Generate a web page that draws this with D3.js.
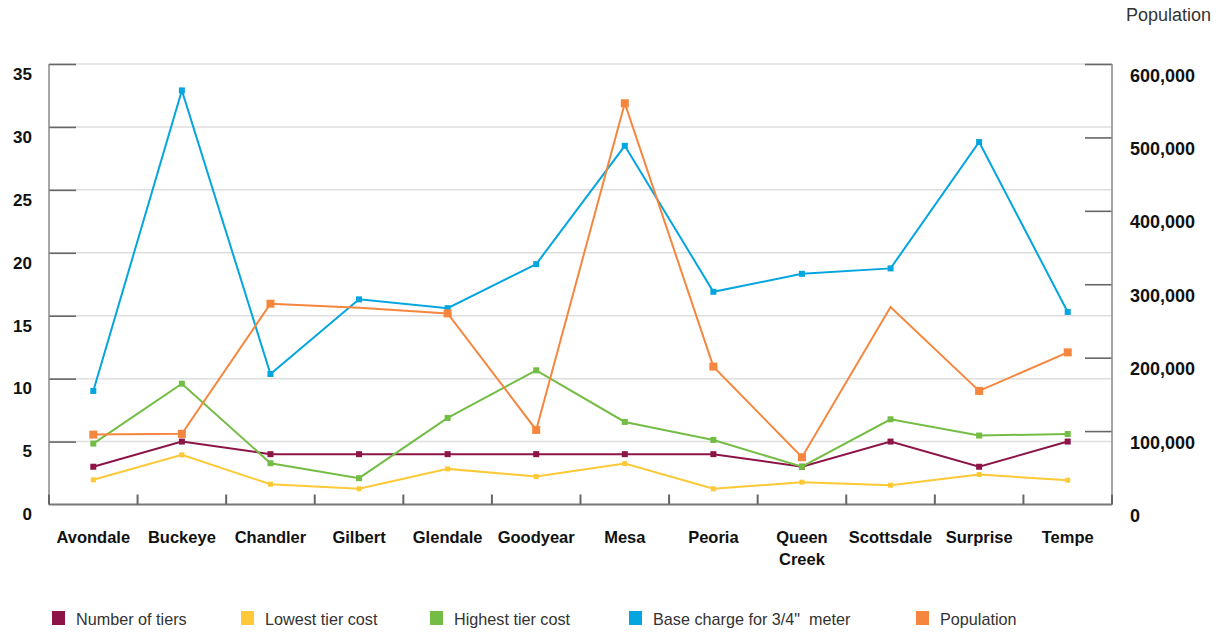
<!DOCTYPE html>
<html>
<head>
<meta charset="utf-8">
<script src="https://cdn.jsdelivr.net/npm/d3@7"></script>
<style>
  html, body { margin: 0; padding: 0; background: #ffffff; }
  svg { display: block; font-family: "Liberation Sans", Arial, Helvetica, sans-serif; }
</style>
</head>
<body>
<svg id="chart" width="1221" height="633"></svg>
<script>
// Water rate structure by city, with city population on the right axis
const cities = ["Avondale", "Buckeye", "Chandler", "Gilbert", "Glendale", "Goodyear",
                "Mesa", "Peoria", "Queen Creek", "Scottsdale", "Surprise", "Tempe"];
const numberOfTiers   = [3, 5, 4, 4, 4, 4, 4, 4, 3, 5, 3, 5];
const lowestTierCost  = [1.96, 3.94, 1.61, 1.25, 2.83, 2.22, 3.25, 1.25, 1.77, 1.53, 2.38, 1.93];
const highestTierCost = [4.84, 9.6, 3.28, 2.09, 6.88, 10.66, 6.56, 5.13, 3.0, 6.77, 5.48, 5.6];
const baseCharge      = [9.02, 32.9, 10.37, 16.3, 15.6, 19.1, 28.5, 16.9, 18.33, 18.76, 28.8, 15.3];
const population      = [95200, 96200, 273500, 268000, 260300, 101600, 546500, 187800, 64400, 269000, 154700, 207200];
const populationNoMarker = ["Gilbert", "Scottsdale"];

const leftTicks  = [0, 5, 10, 15, 20, 25, 30, 35];
const rightTicks = [0, 100000, 200000, 300000, 400000, 500000, 600000];
const rightTitle = "Population";

const series = [
  { name: "Number of tiers",            values: numberOfTiers,   color: "#8c1447", axis: "left",  marker: 6 },
  { name: "Lowest tier cost",           values: lowestTierCost,  color: "#fdc937", axis: "left",  marker: 5 },
  { name: "Highest tier cost",          values: highestTierCost, color: "#74bd45", axis: "left",  marker: 6 },
  { name: "Base charge for 3/4\"  meter", values: baseCharge,    color: "#05a5df", axis: "left",  marker: 6 },
  { name: "Population",                 values: population,      color: "#f6863d", axis: "right", marker: 8 }
];

const svg = d3.select("#chart");
const plot = { left: 49, right: 1112, top: 64, bottom: 504.5 };

const x = d3.scaleBand().domain(cities).range([plot.left, plot.right]).padding(0);
const yL = d3.scaleLinear().domain([0, 35]).range([plot.bottom, plot.top]);
const yR = d3.scaleLinear().domain([0, 600000]).range([plot.bottom, plot.top]);
const cx = c => x(c) + x.bandwidth() / 2;

// horizontal gridlines (left-axis values)
svg.append("g")
  .selectAll("line")
  .data(leftTicks.filter(t => t > 0))
  .join("line")
  .attr("x1", plot.left).attr("x2", plot.right)
  .attr("y1", d => yL(d)).attr("y2", d => yL(d))
  .attr("stroke", "#dedede").attr("stroke-width", 1.5);

// left axis: ticks point inward, labels sit just below each tick
const gL = svg.append("g").attr("transform", `translate(${plot.left},0)`)
  .call(d3.axisLeft(yL).tickValues(leftTicks).tickSize(-27).tickFormat(d3.format("d")));
gL.select(".domain").remove();
gL.selectAll(".tick line").attr("stroke", "#666").attr("stroke-width", 1.6)
  .filter(d => d === 0).remove();
gL.selectAll(".tick text")
  .attr("x", -17).attr("dy", "0.9em")
  .attr("font-size", 17).attr("font-weight", "bold").attr("fill", "#111")
  .attr("font-family", "'Liberation Sans', Arial, sans-serif");

// right axis
const gR = svg.append("g").attr("transform", `translate(${plot.right},0)`)
  .call(d3.axisRight(yR).tickValues(rightTicks).tickSize(-27).tickFormat(d3.format(",")));
gR.select(".domain").remove();
gR.selectAll(".tick line").attr("stroke", "#666").attr("stroke-width", 1.6)
  .filter(d => d === 0).remove();
gR.selectAll(".tick text")
  .attr("x", 18).attr("dy", "0.95em")
  .attr("font-size", 18).attr("font-weight", "bold").attr("fill", "#111")
  .attr("font-family", "'Liberation Sans', Arial, sans-serif");

svg.append("text")
  .attr("x", 1211).attr("y", 21).attr("text-anchor", "end")
  .attr("font-size", 18).attr("fill", "#333")
  .text(rightTitle);

// frame: vertical axis lines and baseline
svg.append("line").attr("x1", plot.left).attr("x2", plot.left)
  .attr("y1", plot.top).attr("y2", plot.bottom).attr("stroke", "#888").attr("stroke-width", 1.5);
svg.append("line").attr("x1", plot.right).attr("x2", plot.right)
  .attr("y1", plot.top).attr("y2", plot.bottom).attr("stroke", "#888").attr("stroke-width", 1.5);
svg.append("line").attr("x1", plot.left).attr("x2", plot.right)
  .attr("y1", plot.bottom).attr("y2", plot.bottom).attr("stroke", "#777").attr("stroke-width", 2);

// category separators on the baseline
const bounds = cities.map(c => x(c)).concat([plot.right]);
svg.append("g").selectAll("line").data(bounds).join("line")
  .attr("x1", d => d).attr("x2", d => d)
  .attr("y1", plot.bottom - 10).attr("y2", plot.bottom)
  .attr("stroke", "#666").attr("stroke-width", 2);

// category labels
const gX = svg.append("g").attr("transform", `translate(0,${plot.bottom})`)
  .call(d3.axisBottom(x).tickSize(0).tickPadding(0));
gX.select(".domain").remove();
gX.selectAll(".tick text")
  .attr("y", 38.5).attr("dy", 0)
  .attr("font-size", 16.5).attr("font-weight", "bold").attr("fill", "#111")
  .attr("font-family", "'Liberation Sans', Arial, sans-serif")
  .each(function (d) {
    const words = d.split(" ");
    if (words.length > 1) {
      const t = d3.select(this).text(null);
      words.forEach((w, i) => t.append("tspan").attr("x", 0).attr("dy", i ? 22 : 0).text(w));
    }
  });

// series lines and markers
const lineGen = (scale) => d3.line().x((d, i) => cx(cities[i])).y(d => scale(d));
series.forEach(s => {
  const scale = s.axis === "left" ? yL : yR;
  const g = svg.append("g");
  g.append("path")
    .datum(s.values)
    .attr("d", lineGen(scale))
    .attr("fill", "none")
    .attr("stroke", s.color)
    .attr("stroke-width", 2)
    .attr("stroke-linejoin", "miter");
  const pts = s.values.map((v, i) => ({ c: cities[i], v }))
    .filter(p => !(s.name === "Population" && populationNoMarker.includes(p.c)));
  g.selectAll("rect").data(pts).join("rect")
    .attr("x", p => cx(p.c) - s.marker / 2)
    .attr("y", p => scale(p.v) - s.marker / 2)
    .attr("width", s.marker).attr("height", s.marker)
    .attr("fill", s.color);
});

// legend
const legendX = [52, 241, 430, 629, 916];
const lg = svg.append("g").selectAll("g").data(series).join("g")
  .attr("transform", (d, i) => `translate(${legendX[i]},611)`);
lg.append("rect").attr("width", 13).attr("height", 14).attr("fill", d => d.color);
lg.append("text")
  .attr("x", 24).attr("y", 13.5)
  .attr("font-size", 16.2).attr("fill", "#333")
  .style("white-space", "pre")
  .text(d => d.name);
</script>
</body>
</html>
